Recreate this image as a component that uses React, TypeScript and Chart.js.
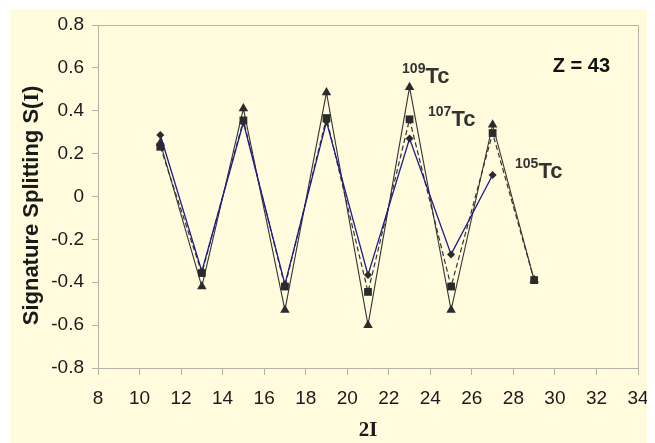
import React, { useEffect, useRef } from "react";
import { Chart, registerables } from "chart.js";

Chart.register(...registerables);

// 2I values
const spinValues = [11, 13, 15, 17, 19, 21, 23, 25, 27, 29];
// Signature splitting S(I)
const tc105 = [0.287, -0.35, 0.345, -0.41, 0.35, -0.366, 0.27, -0.27, 0.1, null];
const tc107 = [0.232, -0.357, 0.355, -0.42, 0.366, -0.445, 0.36, -0.42, 0.296, -0.39];
const tc109 = [0.25, -0.42, 0.41, -0.53, 0.485, -0.6, 0.51, -0.53, 0.335, -0.39];

const isotopeLabels = ["109", "107", "105"];
const isotopeAnchorX = [22.64, 23.89, 28.08];
const isotopeAnchorY = [0.529, 0.329, 0.086];
const zLabel = "Z = 43";
const zAnchor = { x: 29.9, y: 0.58 };

const xTitle = "2I";
const yTitleParts = ["Signature Splitting S(", "I", ")"];

const BG = "#fffbdc";
const AXIS = "#b4b4a6";
const TEXT = "#1a1a1a";
const SANS = "'Liberation Sans', Arial, sans-serif";
const SERIF = "'Liberation Serif', 'Times New Roman', serif";

const toPoints = (arr: (number | null)[]) =>
  spinValues
    .map((x, i) => ({ x, y: arr[i] }))
    .filter((p) => p.y !== null) as { x: number; y: number }[];

const textPlugin = {
  id: "textPlugin",
  afterDraw(chart: any) {
    const ctx = chart.ctx as CanvasRenderingContext2D;
    const xs = chart.scales.x;
    const ys = chart.scales.y;
    const area = chart.chartArea;
    ctx.save();
    // box border top/right
    ctx.strokeStyle = AXIS;
    ctx.lineWidth = 1;
    ctx.beginPath();
    ctx.moveTo(area.left, Math.round(area.top) + 0.5);
    ctx.lineTo(Math.round(area.right) + 0.5, Math.round(area.top) + 0.5);
    ctx.lineTo(Math.round(area.right) + 0.5, area.bottom);
    ctx.stroke();

    // isotope labels
    ctx.textBaseline = "alphabetic";
    ctx.textAlign = "left";
    isotopeLabels.forEach((lab, i) => {
      const px = xs.getPixelForValue(isotopeAnchorX[i]);
      const py = ys.getPixelForValue(isotopeAnchorY[i]);
      ctx.fillStyle = "#333333";
      ctx.font = `bold 14px ${SANS}`;
      ctx.fillText(lab, px, py - 10);
      const w = ctx.measureText(lab).width;
      ctx.font = `bold 22px ${SANS}`;
      ctx.fillText("Tc", px + w, py);
    });

    // Z label
    ctx.fillStyle = "#111111";
    ctx.font = `bold 20px ${SANS}`;
    ctx.fillText(zLabel, xs.getPixelForValue(zAnchor.x), ys.getPixelForValue(zAnchor.y));

    // x title
    ctx.font = `bold 21px ${SERIF}`;
    ctx.textAlign = "center";
    ctx.textBaseline = "middle";
    ctx.fillStyle = TEXT;
    ctx.fillText(xTitle, (area.left + area.right) / 2, 422);

    // y title
    ctx.translate(22, (area.top + area.bottom) / 2 + 9);
    ctx.rotate(-Math.PI / 2);
    const fonts = [`bold 22px ${SANS}`, `bold 22px ${SERIF}`, `bold 22px ${SANS}`];
    let total = 0;
    const widths = yTitleParts.map((t, i) => {
      ctx.font = fonts[i];
      const w = ctx.measureText(t).width;
      total += w;
      return w;
    });
    let cx = -total / 2;
    ctx.textAlign = "left";
    yTitleParts.forEach((t, i) => {
      ctx.font = fonts[i];
      ctx.fillText(t, cx, 0);
      cx += widths[i];
    });
    ctx.restore();
  },
};

export default function App() {
  const ref = useRef<HTMLCanvasElement | null>(null);
  useEffect(() => {
    if (!ref.current) return;
    const chart = new Chart(ref.current, {
      type: "line",
      data: {
        datasets: [
          {
            label: "105Tc",
            data: toPoints(tc105),
            borderColor: "#1c1c8c",
            borderWidth: 1.3,
            pointStyle: "rectRot",
            pointRadius: 4,
            pointBackgroundColor: "#2b2b2b",
            pointBorderColor: "#2b2b2b",
            pointBorderWidth: 0,
            tension: 0,
          },
          {
            label: "107Tc",
            data: toPoints(tc107),
            borderColor: "#333333",
            borderWidth: 1.2,
            borderDash: [5, 3],
            pointStyle: "rect",
            pointRadius: 5.5,
            pointBackgroundColor: "#2b2b2b",
            pointBorderColor: "#2b2b2b",
            pointBorderWidth: 0,
            tension: 0,
          },
          {
            label: "109Tc",
            data: toPoints(tc109),
            borderColor: "#333333",
            borderWidth: 1.1,
            pointStyle: "triangle",
            pointRadius: 5.5,
            pointBackgroundColor: "#2b2b2b",
            pointBorderColor: "#2b2b2b",
            pointBorderWidth: 0,
            tension: 0,
          },
        ],
      },
      options: {
        responsive: false,
        animation: false,
        layout: { padding: { top: 16, right: 12, left: 0, bottom: 0 } },
        plugins: { legend: { display: false }, tooltip: { enabled: false } },
        scales: {
          x: {
            type: "linear",
            min: 8,
            max: 34,
            ticks: {
              stepSize: 2,
              color: TEXT,
              font: { family: SANS, size: 19 },
              padding: 12,
            },
            grid: { drawOnChartArea: false, drawTicks: true, tickLength: 7, color: AXIS },
            border: { color: AXIS },
            afterFit: (s: any) => {
              s.height = 75;
              s.paddingLeft = 0;
              s.paddingRight = 0;
            },
          },
          y: {
            type: "linear",
            min: -0.8,
            max: 0.8,
            ticks: {
              stepSize: 0.2,
              color: TEXT,
              font: { family: SANS, size: 19 },
              padding: 8,
              callback: (v: any) => String(Math.round(Number(v) * 10) / 10),
            },
            grid: { drawOnChartArea: false, drawTicks: true, tickLength: 6, color: AXIS },
            border: { color: AXIS },
            afterFit: (s: any) => {
              s.width = 88;
              s.paddingTop = 0;
              s.paddingBottom = 0;
            },
          },
        },
      },
      plugins: [textPlugin],
    });
    return () => chart.destroy();
  }, []);
  return (
    <div style={{ paddingLeft: 2, paddingTop: 1 }}>
      <canvas
        ref={ref}
        width={640}
        height={434}
        style={{ display: "block", width: 640, height: 434, background: BG }}
      />
    </div>
  );
}
